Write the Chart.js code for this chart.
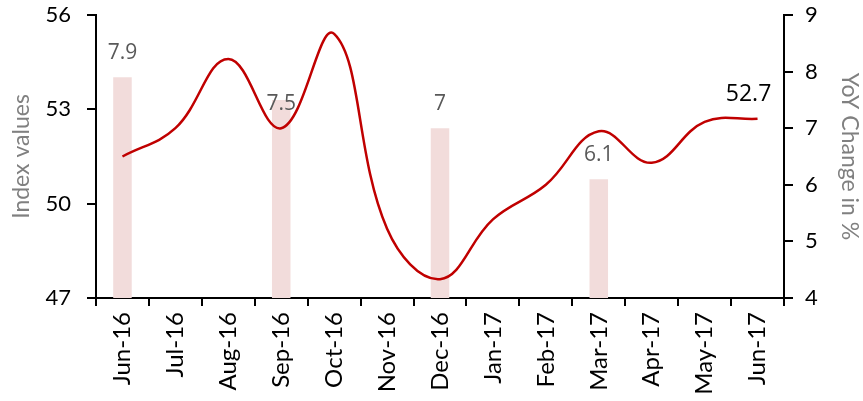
<!DOCTYPE html>
<html>
<head>
<meta charset="utf-8">
<script src="https://cdn.jsdelivr.net/npm/chart.js@4"></script>
<style>
html,body{margin:0;padding:0;background:#fff;}
canvas{display:block;}
</style>
</head>
<body>
<canvas id="c" width="863" height="401"></canvas>
<script>
const categories = ["Jun-16","Jul-16","Aug-16","Sep-16","Oct-16","Nov-16","Dec-16","Jan-17","Feb-17","Mar-17","Apr-17","May-17","Jun-17"];
const indexValues = [51.5, 52.4, 54.6, 52.4, 55.4, 49.2, 47.6, 49.5, 50.6, 52.3, 51.3, 52.6, 52.7];
const yoyChange = [7.9, null, null, 7.5, null, null, 7.0, null, null, 6.1, null, null, null];
const leftTicks = [47, 50, 53, 56];
const rightTicks = [4, 5, 6, 7, 8, 9];

const labelPlugin = {
  id: 'labels',
  afterDatasetsDraw(chart) {
    const ctx = chart.ctx;
    ctx.save();
    ctx.textAlign = 'center';
    ctx.textBaseline = 'middle';
    const barMeta = chart.getDatasetMeta(1);
    ctx.font = '21px "Open Sans"';
    ctx.fillStyle = '#595959';
    yoyChange.forEach((v, i) => {
      if (v === null) return;
      const el = barMeta.data[i];
      const dy = (i === 3) ? 4 : -24;
      ctx.fillText(String(v), el.x, el.y + dy);
    });
    const lineMeta = chart.getDatasetMeta(0);
    const last = indexValues.length - 1;
    const p = lineMeta.data[last];
    ctx.font = '23px "Open Sans"';
    ctx.fillStyle = '#000000';
    ctx.fillText(String(indexValues[last]), p.x - 9, p.y - 24);
    ctx.restore();
  }
};

function noVPad(s) { s.paddingTop = 0; s.paddingBottom = 0; }

new Chart(document.getElementById('c'), {
  data: {
    labels: categories,
    datasets: [
      {
        type: 'line',
        data: indexValues,
        yAxisID: 'y',
        borderColor: '#c00000',
        borderWidth: 2.5,
        pointRadius: 0,
        tension: 0.4,
        fill: false,
        order: 0
      },
      {
        type: 'bar',
        data: yoyChange,
        yAxisID: 'y1',
        backgroundColor: '#f2dcdb',
        barPercentage: 0.35,
        categoryPercentage: 1.0,
        order: 1
      }
    ]
  },
  options: {
    responsive: false,
    animation: false,
    layout: { padding: { top: 15, left: 0, right: 0, bottom: 0 } },
    plugins: { legend: { display: false }, tooltip: { enabled: false } },
    scales: {
      x: {
        offset: true,
        grid: { offset: true, drawOnChartArea: false, drawTicks: true, tickLength: 8, color: '#000', lineWidth: 2 },
        border: { color: '#000', width: 2 },
        ticks: { minRotation: 90, maxRotation: 90, autoSkip: false, color: '#000', font: { family: 'Lato', size: 24 }, padding: 6 },
        afterFit(s) { s.height = 103; s.paddingLeft = 0; s.paddingRight = 0; }
      },
      y: {
        position: 'left',
        min: 47, max: 56,
        afterBuildTicks(s) { s.ticks = leftTicks.map(v => ({ value: v })); },
        grid: { drawOnChartArea: false, tickLength: 9, color: '#000', lineWidth: 2 },
        border: { color: '#000', width: 2 },
        ticks: { color: '#000', font: { family: 'Lato', size: 22 }, padding: 16 },
        title: { display: true, text: 'Index values', color: '#808080', font: { family: 'Lato', size: 23 }, padding: { top: 8, bottom: 0 } },
        afterFit(s) { s.width = 96; noVPad(s); }
      },
      y1: {
        position: 'right',
        min: 4, max: 9,
        afterBuildTicks(s) { s.ticks = rightTicks.map(v => ({ value: v })); },
        grid: { drawOnChartArea: false, tickLength: 9, color: '#000', lineWidth: 2 },
        border: { color: '#000', width: 2 },
        ticks: { color: '#000', font: { family: 'Lato', size: 22 }, padding: 12 },
        title: { display: true, text: 'YoY Change in %', color: '#808080', font: { family: 'Lato', size: 23 }, padding: { top: 0, bottom: 0 } },
        afterFit(s) { s.width = 79; noVPad(s); }
      }
    }
  },
  plugins: [labelPlugin]
});
</script>
</body>
</html>
